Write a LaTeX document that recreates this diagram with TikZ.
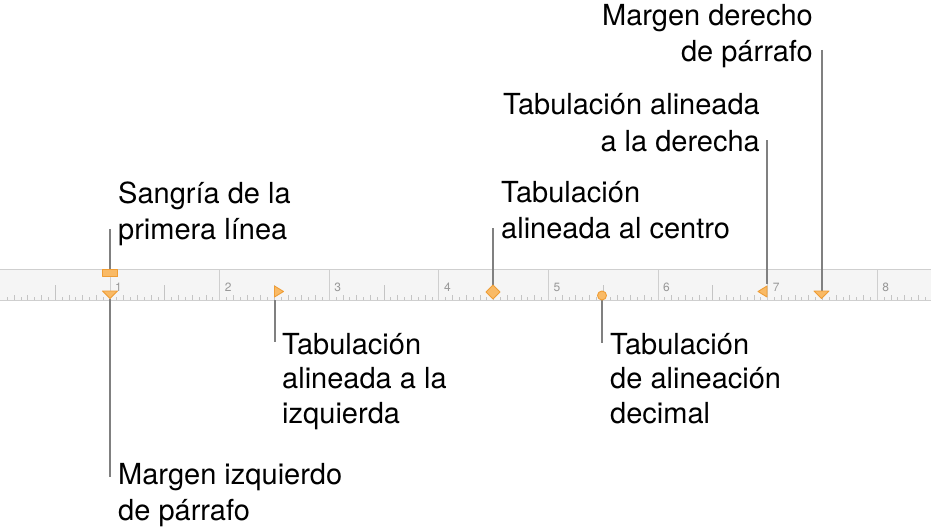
\documentclass[tikz,border=0pt]{standalone}
\usepackage{fontspec}
\setmainfont{TeX Gyre Heros}
\definecolor{rulerbg}{HTML}{F5F5F5}
\definecolor{rulerline}{HTML}{CFCFCF}
\definecolor{tickcol}{HTML}{C4C4C4}
\definecolor{numcol}{HTML}{999999}
\definecolor{mkfill}{HTML}{F9BA66}
\definecolor{mkdraw}{HTML}{EF9D35}
\definecolor{leadcol}{HTML}{808080}
\tikzset{
  lbl/.style={inner sep=0pt, font=\fontsize{29}{36}\selectfont, text=black},
  lblthree/.style={inner sep=0pt, font=\fontsize{29}{34.5}\selectfont, text=black},
  lead/.style={draw=leadcol, line width=2pt},
  marker/.style={fill=mkfill, draw=mkdraw, line width=0.9pt, line join=round},
  rnum/.style={inner sep=0pt, anchor=west, font=\fontsize{12}{12}\selectfont, text=numcol}
}
\begin{document}
\begin{tikzpicture}[x=1pt,y=-1pt]
\useasboundingbox (0,0) rectangle (931,532);
\fill[white] (0,0) rectangle (931,532);
% ruler
\fill[rulerbg] (0,269) rectangle (931,300);
\draw[rulerline, line width=1pt] (0,269) -- (931,269);
\draw[rulerline, line width=1pt] (0,300) -- (931,300);
\foreach \k in {1,...,143}{
  \pgfmathsetmacro{\xx}{0.4+\k*109.6/16}
  \pgfmathtruncatemacro{\mm}{mod(\k,16)}
  \pgfmathtruncatemacro{\mh}{mod(\k,8)}
  \pgfmathtruncatemacro{\me}{mod(\k,2)}
  \ifnum\mm=0
    \draw[rulerline, line width=1pt] (\xx,269) -- (\xx,300);
  \else\ifnum\mh=0
    \draw[tickcol, line width=0.8pt] (\xx,300) -- (\xx,285);
  \else\ifnum\me=0
    \draw[tickcol, line width=0.8pt] (\xx,300) -- (\xx,295);
  \else
    \draw[tickcol, line width=0.8pt] (\xx,300) -- (\xx,297);
  \fi\fi\fi
}
\foreach \n in {1,...,8}{
  \pgfmathsetmacro{\xx}{0.4+\n*109.6+5}
  \node[rnum] (num\n) at (\xx,287) {\n};
}
% anchor coordinates of the markers
\coordinate (indtop) at (110,269);
\coordinate (lmbot) at (110,299);
\coordinate (ltbot) at (274.5,300);
\coordinate (cttop) at (493,285);
\coordinate (decbot) at (602,300);
\coordinate (rttop) at (766.5,284);
\coordinate (rmtop) at (821.5,291);
% connector ends
\coordinate (indend) at (110,229);
\coordinate (lmend) at (110,477);
\coordinate (ltend) at (274.5,342);
\coordinate (ctend) at (493,228);
\coordinate (decend) at (602,343);
\coordinate (rtend) at (766.5,140);
\coordinate (rmend) at (821.5,50);
% connectors
\draw[lead] (indend) -- (indtop);
\draw[lead] (lmbot) -- (lmend);
\draw[lead] (ltbot) -- (ltend);
\draw[lead] (ctend) -- (cttop);
\draw[lead] (decbot) -- (decend);
\draw[lead] (rtend) -- (rttop);
\draw[lead] (rmend) -- (rmtop);
% markers
\draw[marker] (102.5,269.5) rectangle (117.5,276.5);
\draw[marker] (102.5,291) -- (117.5,291) -- (110,298.5) -- cycle;
\draw[marker] (274.5,286) -- (283.5,291.5) -- (274.5,297) -- cycle;
\draw[marker] (493,285) -- (500,292) -- (493,299) -- (486,292) -- cycle;
\draw[marker] (602,295.5) circle (4.5);
\draw[marker] (767,286) -- (758,291.5) -- (767,297) -- cycle;
\draw[marker] (814,291) -- (829,291) -- (821.5,298.5) -- cycle;
% labels (base anchor = baseline of the last line)
\node[lbl, anchor=base east, align=right] (rmtext) at (813,62) {Margen derecho\\de párrafo};
\node[lbl, anchor=base east, align=right] (rttext) at (760,151) {Tabulación alineada\\a la derecha};
\node[lbl, anchor=base west, align=left] (sangtext) at (118,239) {Sangría de la\\primera línea};
\node[lbl, anchor=base west, align=left] (cttext) at (501,238) {Tabulación\\alineada al centro};
\node[lblthree, anchor=base west, align=left] (lttext) at (282,423) {Tabulación\\alineada a la\\izquierda};
\node[lblthree, anchor=base west, align=left] (dectext) at (610,423) {Tabulación\\de alineación\\decimal};
\node[lbl, anchor=base west, align=left] (lmtext) at (118,520) {Margen izquierdo\\de párrafo};
\end{tikzpicture}
\end{document}
